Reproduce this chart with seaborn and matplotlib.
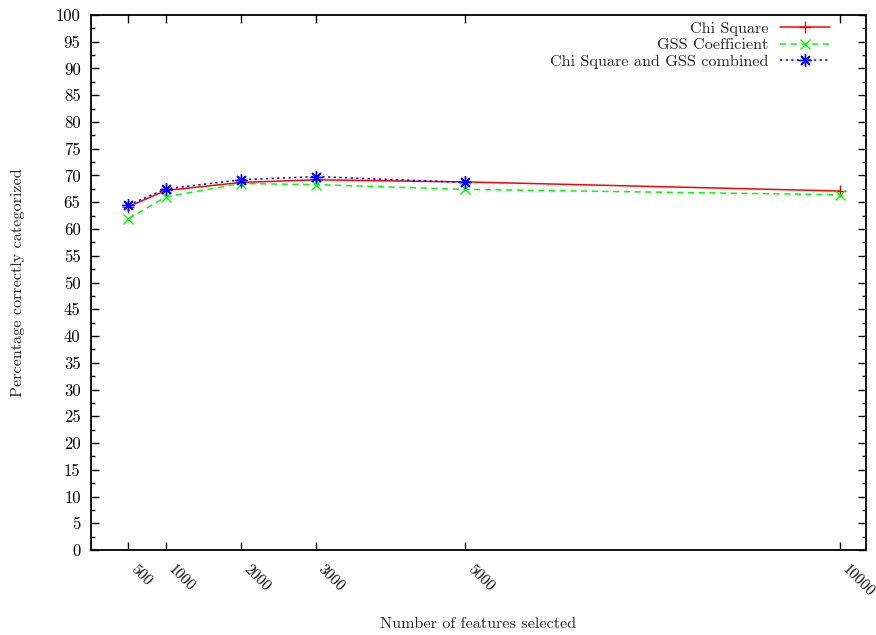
import matplotlib
matplotlib.use("Agg")
import matplotlib.pyplot as plt
import seaborn as sns
from matplotlib.ticker import MultipleLocator

features = [500, 1000, 2000, 3000, 5000, 10000]
chi_square = [64.2, 67.2, 68.7, 69.2, 68.8, 67.1]
gss_coeff = [61.9, 66.0, 68.5, 68.3, 67.4, 66.4]
combined_x = [500, 1000, 2000, 3000, 5000]
combined = [64.5, 67.5, 69.2, 69.8, 68.7]
y_ticks = list(range(0, 101, 5))

sns.set_style("ticks")
plt.rcParams['font.family'] = ['cmr10', 'DejaVu Serif']
plt.rcParams['axes.formatter.use_mathtext'] = True
plt.rcParams['mathtext.fontset'] = 'cm'

fig = plt.figure(figsize=(8.76, 6.35), dpi=100)
ax = fig.add_axes([91/876, 85/635, 775/876, 535/635])

red, green, blue = '#ff0000', '#00ff00', '#0000ff'
sns.lineplot(x=features, y=chi_square, ax=ax, color=red, lw=1.1,
             marker='+', markersize=9, markeredgewidth=1.0,
             markeredgecolor=red, markerfacecolor=red,
             label='Chi Square')
sns.lineplot(x=features, y=gss_coeff, ax=ax, color=green, lw=1.1,
             marker='x', markersize=7, markeredgewidth=1.0,
             markeredgecolor=green, markerfacecolor=green,
             label='GSS Coefficient')
ax.lines[-1].set_dashes((4, 3))
sns.lineplot(x=combined_x, y=combined, ax=ax, color=blue, lw=1.1,
             marker=(8, 2, 0), markersize=9, markeredgewidth=1.0,
             markeredgecolor=blue, markerfacecolor=blue,
             label='Chi Square and GSS combined')
ax.lines[-1].set_dashes((1.5, 2.2))

ax.set_xlim(0, 10350)
ax.set_ylim(0, 100)
ax.set_yticks(y_ticks)
ax.set_yticklabels([str(v) for v in y_ticks])
ax.yaxis.set_minor_locator(MultipleLocator(2.5))
ax.set_xticks(features)
ax.set_xticklabels([str(v) for v in features], rotation=-45,
                   ha='left', va='top', rotation_mode='default')

ax.tick_params(axis='both', which='both', direction='in', top=True, right=True,
               labelsize=12, width=1.0, colors='black')
ax.tick_params(axis='x', which='major', labelsize=11)
ax.tick_params(axis='both', which='major', length=6)
ax.tick_params(axis='both', which='minor', length=3)
ax.tick_params(axis='x', which='major', pad=8.6)
ax.tick_params(axis='y', which='major', pad=7.5)
for s in ax.spines.values():
    s.set_linewidth(1.3)
    s.set_color('black')

ax.set_xlabel('Number of features selected', fontsize=11.7, va='top')
ax.xaxis.set_label_coords(0.5, -0.125)
ax.set_ylabel('Percentage correctly categorized', fontsize=11.7)
ax.yaxis.set_label_coords(-0.085, 0.5)

leg = ax.legend(loc='upper right', bbox_to_anchor=(0.962, 1.0),
                borderaxespad=0, frameon=False, markerfirst=False,
                fontsize=11.7, handlelength=3.1,
                labelspacing=0.12, handletextpad=0.7)

fig.savefig('out.png', dpi=100)
